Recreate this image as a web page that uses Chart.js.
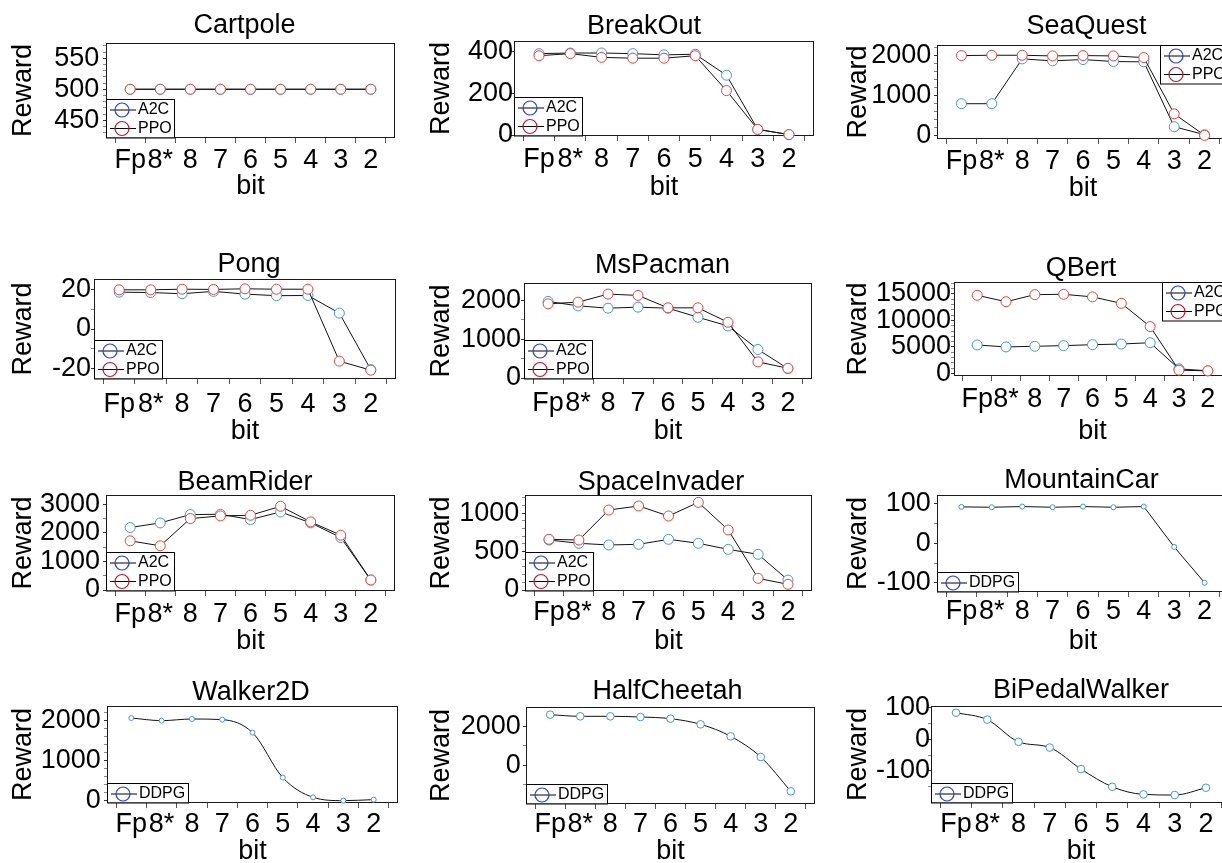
<!DOCTYPE html>
<html>
<head>
<meta charset="utf-8">
<script src="https://cdn.jsdelivr.net/npm/chart.js@4.4.1/dist/chart.umd.min.js"></script>
<style>
  html, body { margin: 0; padding: 0; background: #fff; }
  body { position: relative; width: 1222px; height: 863px; overflow: hidden; }
  canvas { position: absolute; }
</style>
</head>
<body>
<script>
// x categories (bit width)
const bits = ['Fp', '8*', '8', '7', '6', '5', '4', '3', '2'];

// rewards
const cartpoleA2C = [500, 500, 500, 500, 500, 500, 500, 500, 500];
const cartpolePPO = [500, 500, 500, 500, 500, 500, 500, 500, 500];
const breakoutA2C = [392, 395, 395, 392, 386, 389, 288, 27, 2];
const breakoutPPO = [382, 392, 374, 370, 370, 382, 214, 27, 2];
const seaquestA2C = [790, 790, 1909, 1860, 1893, 1843, 1835, 215, 17];
const seaquestPPO = [1992, 2000, 2000, 1983, 1992, 1983, 1942, 537, 0];
const pongA2C = [18.8, 18.6, 18, 19.2, 17.8, 17, 17.1, 8.1, -20.7];
const pongPPO = [20, 20, 20.3, 20.2, 20.5, 20.3, 20.3, -16.4, -21];
const mspacmanA2C = [1966, 1853, 1793, 1819, 1793, 1560, 1336, 733, 241];
const mspacmanPPO = [1905, 1948, 2155, 2121, 1802, 1802, 1431, 414, 250];
const qbertA2C = [5366, 5000, 5122, 5244, 5427, 5549, 5793, 854, 488];
const qbertPPO = [14756, 13537, 14878, 14939, 14451, 13232, 8841, 610, 488];
const beamriderA2C = [2186, 2349, 2640, 2651, 2465, 2733, 2349, 1837, 349];
const beamriderPPO = [1721, 1547, 2500, 2593, 2616, 2930, 2384, 1919, 349];
const spaceinvA2C = [652, 609, 587, 596, 661, 609, 530, 465, 130];
const spaceinvPPO = [661, 652, 1043, 1096, 965, 1143, 783, 152, 74];
const mountaincarDDPG = [92.4, 91.5, 93.2, 91.5, 93.2, 91.5, 93.2, -9.3, -100];
const walkerDDPG = [2058, 1992, 2033, 2017, 1692, 567, 75, -8, 17];
const cheetahDDPG = [2598, 2513, 2513, 2479, 2393, 2103, 1487, 427, -1333];
const bipedalDDPG = [84, 62, -8, -26, -94, -150, -174, -176, -153];

// y tick labels
const cartpoleTicks = [450, 500, 550];
const breakoutTicks = [0, 200, 400];
const seaquestTicks = [0, 1000, 2000];
const pongTicks = [-20, 0, 20];
const mspacmanTicks = [0, 1000, 2000];
const qbertTicks = [0, 5000, 10000, 15000];
const beamriderTicks = [0, 1000, 2000, 3000];
const spaceinvTicks = [0, 500, 1000];
const mountaincarTicks = [-100, 0, 100];
const walkerTicks = [0, 1000, 2000];
const cheetahTicks = [0, 2000];
const bipedalTicks = [-100, 0, 100];

const FONT = '"Liberation Sans", Arial, Helvetica, sans-serif';
const FS = 27;
const STYLE = {
  A2C:  { point: '#3b9ad9', key: '#1f3dff' },
  PPO:  { point: '#ee4035', key: '#c4122f' },
  DDPG: { point: '#3b9ad9', key: '#1f3dff' },
};

Chart.defaults.font.family = FONT;
Chart.defaults.color = '#000';

const panels = [
  { title: 'Cartpole', series: { A2C: cartpoleA2C, PPO: cartpolePPO }, ticks: cartpoleTicks, yMin: 423, yMax: 573, minor: 10,
    box: [107, 44, 394, 137], tx: 244.3, ty: 25, rx: 23, tickY: 161, bitY: 186.5, gap: 8.7, legend: 'bl', r: 5 },
  { title: 'BreakOut', series: { A2C: breakoutA2C, PPO: breakoutPPO }, ticks: breakoutTicks, yMin: 0, yMax: 448, minor: 0,
    box: [515, 41.7, 812.7, 135], tx: 644, ty: 26.3, rx: 441.7, tickY: 160, bitY: 187.5, gap: 3, legend: 'bl', r: 5 },
  { title: 'SeaQuest', series: { A2C: seaquestA2C, PPO: seaquestPPO }, ticks: seaquestTicks, yMin: -66, yMax: 2231, minor: 200,
    box: [937.7, 45.7, 1228, 138.3], tx: 1086.7, ty: 26, rx: 858, tickY: 161.5, bitY: 188, gap: 7.7, legend: 'tr', r: 5 },
  { title: 'Pong', series: { A2C: pongA2C, PPO: pongPPO }, ticks: pongTicks, yMin: -25, yMax: 25, minor: 10,
    box: [95, 280, 395, 377.7], tx: 249, ty: 264, rx: 23.3, tickY: 405, bitY: 431, gap: 5, legend: 'bl', r: 5 },
  { title: 'MsPacman', series: { A2C: mspacmanA2C, PPO: mspacmanPPO }, ticks: mspacmanTicks, yMin: 0, yMax: 2414, minor: 500,
    box: [525, 284, 810.7, 377.7], tx: 662.5, ty: 265, rx: 441.7, tickY: 403.5, bitY: 431, gap: 5, legend: 'bl', r: 5 },
  { title: 'QBert', series: { A2C: qbertA2C, PPO: qbertPPO }, ticks: qbertTicks, yMin: -300, yMax: 17073, minor: 1000,
    box: [955, 283.3, 1230, 375], tx: 1080.8, ty: 268, rx: 858, tickY: 400, bitY: 431, gap: 5, legend: 'tr', r: 5 },
  { title: 'BeamRider', series: { A2C: beamriderA2C, PPO: beamriderPPO }, ticks: beamriderTicks, yMin: 0, yMax: 3290, minor: 500,
    box: [107.3, 495.7, 394, 590], tx: 245, ty: 482, rx: 23.3, tickY: 615, bitY: 641, gap: 8, legend: 'bl', r: 5 },
  { title: 'SpaceInvader', series: { A2C: spaceinvA2C, PPO: spaceinvPPO }, ticks: spaceinvTicks, yMin: 0, yMax: 1226, minor: 100,
    box: [526, 496, 810.7, 590], tx: 660.8, ty: 482.5, rx: 441, tickY: 613, bitY: 641, gap: 7.7, legend: 'bl', r: 5 },
  { title: 'MountainCar', series: { DDPG: mountaincarDDPG }, ticks: mountaincarTicks, yMin: -121, yMax: 120, minor: 50,
    box: [938.3, 496, 1228, 591], tx: 1081.7, ty: 480, rx: 858, tickY: 612, bitY: 641, gap: 8.3, legend: 'bl', r: 2.5 },
  { title: 'Walker2D', series: { DDPG: walkerDDPG }, ticks: walkerTicks, yMin: -42, yMax: 2333, minor: 200,
    box: [108.3, 706.7, 396.7, 801.7], tx: 250.8, ty: 692.5, rx: 23.3, tickY: 825, bitY: 851, gap: 8.3, legend: 'bl', r: 2.5, smooth: true },
  { title: 'HalfCheetah', series: { DDPG: cheetahDDPG }, ticks: cheetahTicks, yMin: -1932, yMax: 2940, minor: 1000,
    box: [527.3, 707.7, 814.3, 802.7], tx: 667.5, ty: 691, rx: 441.7, tickY: 825, bitY: 851, gap: 7.3, legend: 'bl', r: 3.8, smooth: true },
  { title: 'BiPedalWalker', series: { DDPG: bipedalDDPG }, ticks: bipedalTicks, yMin: -198, yMax: 102, minor: 50,
    box: [932.3, 706.7, 1230, 801.7], tx: 1080.8, ty: 690, rx: 858, tickY: 825, bitY: 851, gap: 3, legend: 'bl', r: 3.8, smooth: true },
];

// plot frame drawn on all four sides
const frame = {
  id: 'frame',
  beforeDatasetsDraw(chart) {
    const { ctx, chartArea: a } = chart;
    ctx.save();
    ctx.strokeStyle = '#1a1a1a';
    ctx.lineWidth = 1;
    ctx.strokeRect(Math.round(a.left) - 0.5, Math.round(a.top) - 0.5,
      Math.round(a.right - a.left) + 1, Math.round(a.bottom - a.top) + 1);
    ctx.restore();
  }
};

// boxed legend sitting inside the plot corner
const legendBox = {
  id: 'legendBox',
  afterDatasetsDraw(chart, args, opts) {
    const { ctx, chartArea: a } = chart;
    const items = opts.items || [];
    const w = items.length > 1 ? 67 : 80;
    const h = items.length > 1 ? 37.5 : 18.5;
    const x0 = Math.round(opts.corner === 'tr' ? a.right - w : a.left);
    const y0 = Math.round(opts.corner === 'tr' ? a.top : a.bottom - h);
    ctx.save();
    ctx.fillStyle = '#fff';
    ctx.fillRect(x0, y0, w, h);
    ctx.strokeStyle = '#000';
    ctx.lineWidth = 1;
    ctx.strokeRect(x0 - 0.5, y0 - 0.5, w + 1, h + 1);
    items.forEach((it, i) => {
      const cy = y0 + 10 + i * 18.5;
      ctx.strokeStyle = '#000';
      ctx.lineWidth = 1;
      ctx.beginPath();
      ctx.moveTo(x0 + 3, cy);
      ctx.lineTo(x0 + 29, cy);
      ctx.stroke();
      ctx.strokeStyle = it.color;
      ctx.lineWidth = 1.2;
      ctx.beginPath();
      ctx.arc(x0 + 15, cy, 7, 0, Math.PI * 2);
      ctx.stroke();
      ctx.fillStyle = '#000';
      ctx.font = '16px ' + FONT;
      ctx.textBaseline = 'middle';
      ctx.textAlign = 'left';
      ctx.fillText(it.name, x0 + 31, cy);
    });
    ctx.restore();
  }
};

function build(p) {
  const cl = Math.round(p.rx - FS / 2);
  const ct = Math.round(p.ty - FS / 2);
  const cr = Math.round(2 * p.tx - cl);
  const cb = Math.round(p.bitY + FS / 2);
  const L = Math.round(p.box[0]), T = Math.round(p.box[1]);
  const R = Math.round(p.box[2]), B = Math.round(p.box[3]);

  const cv = document.createElement('canvas');
  cv.width = cr - cl;
  cv.height = cb - ct;
  cv.style.left = cl + 'px';
  cv.style.top = ct + 'px';
  document.body.appendChild(cv);

  const names = Object.keys(p.series);
  const majors = p.ticks;
  let minors = [];
  if (p.minor) {
    for (let v = Math.ceil(p.yMin / p.minor) * p.minor; v <= p.yMax; v += p.minor) {
      if (!majors.includes(v)) minors.push(v);
    }
  }
  const yTickVals = majors.concat(minors).sort((a, b) => a - b);
  const xTickVals = [];
  for (let i = 0; i <= 18; i++) xTickVals.push(i / 2 - 0.5);

  const font = { size: FS, lineHeight: 1, family: FONT };

  new Chart(cv, {
    type: 'line',
    data: {
      datasets: names.map((n, i) => ({
        label: n,
        data: p.series[n].map((v, k) => ({ x: k, y: v })),
        borderColor: '#111',
        borderWidth: 1,
        pointRadius: p.r,
        pointBorderColor: STYLE[n].point,
        pointBackgroundColor: '#fff',
        pointBorderWidth: 1,
        tension: 0,
        cubicInterpolationMode: p.smooth ? 'monotone' : 'default',
        clip: false,
        order: names.length - 1 - i,
      }))
    },
    options: {
      responsive: false,
      animation: false,
      devicePixelRatio: 1,
      layout: { padding: 0 },
      plugins: {
        legend: { display: false },
        tooltip: { enabled: false },
        title: {
          display: true, text: p.title, color: '#000',
          font: { size: FS, weight: 'normal', lineHeight: 1 },
          padding: { top: 0, bottom: Math.max(0, T - ct - FS) }
        },
        legendBox: { corner: p.legend, items: names.map(n => ({ name: n, color: STYLE[n].key })) }
      },
      scales: {
        x: {
          type: 'linear', min: -0.77, max: 8.77,
          afterBuildTicks: s => { s.ticks = xTickVals.map(v => ({ value: v })); },
          afterFit: s => { s.height = cb - B; },
          border: { display: false },
          grid: {
            drawOnChartArea: false, tickLength: 6, lineWidth: 1,
            tickColor: c => (c.tick && Number.isInteger(c.tick.value)) ? 'rgba(0,0,0,0)' : '#555'
          },
          ticks: {
            autoSkip: false, maxRotation: 0, minRotation: 0, color: '#000', font,
            padding: Math.max(0, p.tickY - B - FS / 2 - 6),
            callback: v => Number.isInteger(v) ? bits[v] : ''
          },
          title: { display: true, text: 'bit', color: '#000', font, padding: 0 }
        },
        y: {
          type: 'linear', min: p.yMin, max: p.yMax,
          afterBuildTicks: s => { s.ticks = yTickVals.map(v => ({ value: v })); },
          afterFit: s => { s.width = L - cl; },
          border: { display: false },
          grid: {
            drawOnChartArea: false, tickLength: 4, lineWidth: 1,
            tickColor: c => (c.tick && majors.includes(c.tick.value)) ? '#333' : '#888'
          },
          ticks: {
            autoSkip: false, color: '#000', font,
            padding: Math.max(-2, p.gap - 5),
            callback: v => majors.includes(v) ? String(v) : ''
          },
          title: { display: true, text: 'Reward', color: '#000', font, padding: 0 }
        },
        pad: {
          type: 'linear', position: 'right', display: true,
          grid: { display: false }, border: { display: false }, ticks: { display: false },
          afterFit: s => { s.width = cr - R; }
        }
      }
    },
    plugins: [frame, legendBox]
  });
}

panels.forEach(build);
</script>
</body>
</html>
